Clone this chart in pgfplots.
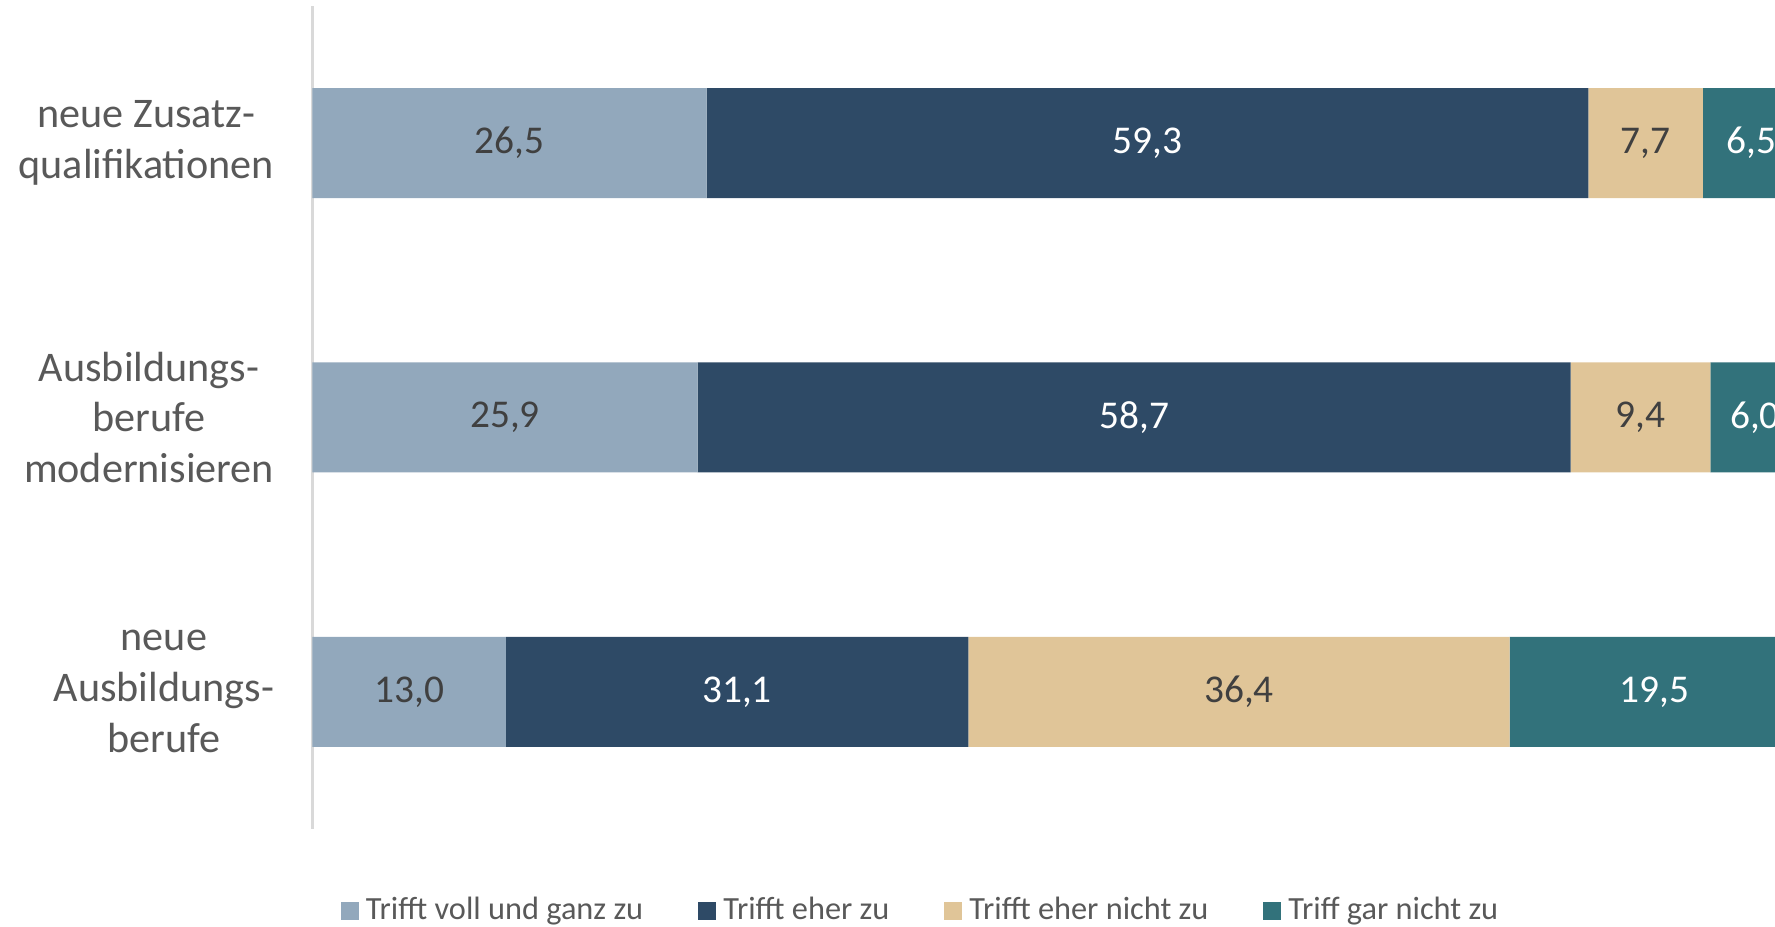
\documentclass[border=0pt]{standalone}
\usepackage{pgfplots}
\usepackage{pgfplotstable}
\pgfplotsset{compat=1.18}
\usepackage{fontspec}
\setmainfont{Carlito}
\definecolor{c1}{RGB}{146,168,188}
\definecolor{c2}{RGB}{46,74,102}
\definecolor{c3}{RGB}{224,197,152}
\definecolor{c4}{RGB}{50,114,123}
\definecolor{labelgray}{RGB}{89,89,89}
\definecolor{darktext}{RGB}{64,64,64}
\definecolor{axisgray}{RGB}{217,217,217}
\pgfplotstableread{
pos val lab
2 26.5 26,5
1 25.9 25,9
0 13.0 13,0
}\tA
\pgfplotstableread{
pos val lab
2 59.3 59,3
1 58.7 58,7
0 31.1 31,1
}\tB
\pgfplotstableread{
pos val lab
2 7.7 7,7
1 9.4 9,4
0 36.4 36,4
}\tC
\pgfplotstableread{
pos val lab
2 6.5 6,5
1 6.0 6,0
0 19.5 19,5
}\tD
\begin{document}
\begin{tikzpicture}
\begin{axis}[
  scale only axis, width=148.703mm, height=82.3mm,
  xbar stacked, bar width=11mm,
  xmin=0, xmax=100, ymin=-0.5, ymax=2.5,
  axis x line=none, axis y line*=left,
  y axis line style={draw=axisgray, line width=0.6pt},
  ytick={0,1,2},
  yticklabels={{neue\\Ausbildungs-\\berufe},{Ausbildungs-\\berufe\\modernisieren},{neue Zusatz-\\qualifikationen}},
  major tick length=0pt,
  yticklabel style={align=center, font=\fontsize{12}{14.5}\selectfont, text=labelgray, xshift=-2.6mm},
  clip=false,
  legend columns=4,
  legend style={draw=none, fill=none, at={(0.4106,-0.0996)}, anchor=center,
    font=\fontsize{9.2}{11}\selectfont, text=labelgray,
    /tikz/every even column/.append style={column sep=4.8mm}},
  legend image code/.code={\fill[#1] (0mm,-0.9mm) rectangle (1.8mm,0.9mm);},
  nodes near coords, point meta=explicit symbolic,
  every node near coord/.append style={anchor=center, font=\fontsize{11.2}{13}\selectfont},
]
\addplot[fill=c1, draw=none, every node near coord/.append style={text=darktext}] table[x=val,y=pos,meta=lab]{\tA};
\addlegendentry{Trifft voll und ganz zu}
\addplot[fill=c2, draw=none, every node near coord/.append style={text=white}] table[x=val,y=pos,meta=lab]{\tB};
\addlegendentry{Trifft eher zu}
\addplot[fill=c3, draw=none, every node near coord/.append style={text=darktext}] table[x=val,y=pos,meta=lab]{\tC};
\addlegendentry{Trifft eher nicht zu}
\addplot[fill=c4, draw=none, every node near coord/.append style={text=white}] table[x=val,y=pos,meta=lab]{\tD};
\addlegendentry{Triff gar nicht zu}
\end{axis}
\pgfresetboundingbox
\useasboundingbox (-31.25mm,-9.8mm) rectangle (146.25mm,82.9mm);
\end{tikzpicture}
\end{document}
